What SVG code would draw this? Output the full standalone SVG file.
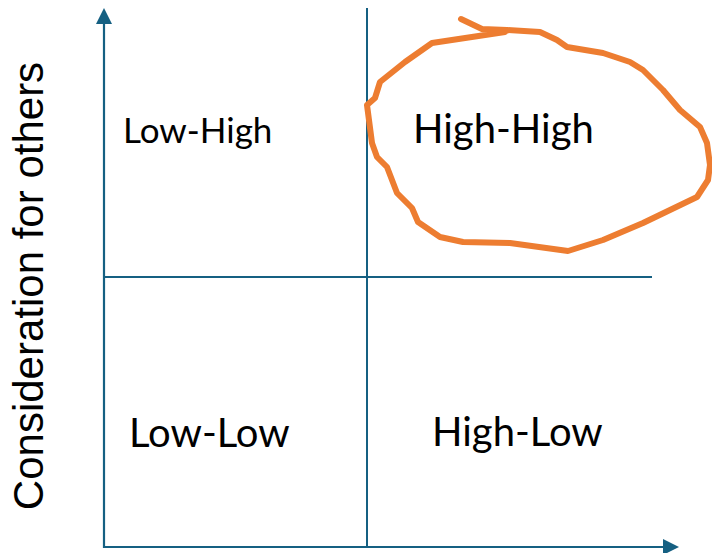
<svg xmlns="http://www.w3.org/2000/svg" width="712" height="553" viewBox="0 0 712 553">
<style>
.ax{stroke:#156082;stroke-width:2.2;fill:none}
.ln{stroke:#156082;stroke-width:2;fill:none}
.lbl{font-family:Lato,"Liberation Sans",sans-serif;fill:#000}
.axl{font-family:"Liberation Sans",Arial,sans-serif;fill:#000;font-size:42px}
.loop{stroke:#ED7D31;stroke-width:6;fill:none;stroke-linecap:round;stroke-linejoin:round}
</style>
<defs>
<marker id="ah" viewBox="0 0 16 16" refX="0" refY="8" markerWidth="16" markerHeight="16" markerUnits="userSpaceOnUse" orient="auto">
<path d="M0,0 L16,8 L0,16 Z" fill="#156082"/>
</marker>
</defs>
<g id="connectors">
<line class="ax" x1="104" y1="548" x2="104" y2="24" marker-end="url(#ah)"/>
<line class="ax" x1="103" y1="547" x2="663" y2="547" marker-end="url(#ah)"/>
<line class="ln" x1="367" y1="8" x2="367" y2="548"/>
<line class="ln" x1="104" y1="277" x2="652" y2="277"/>
</g>
<g id="axis-label">
<text class="axl" transform="translate(43,286) rotate(-90)" text-anchor="middle">Consideration for others</text>
</g>
<g id="low-high"><text class="lbl" x="123" y="143" font-size="35">Low-High</text></g>
<g id="high-high"><text class="lbl" x="413" y="143" font-size="40">High-High</text></g>
<g id="low-low"><text class="lbl" x="129" y="447" font-size="40">Low-Low</text></g>
<g id="high-low"><text class="lbl" x="432" y="446" font-size="40">High-Low</text></g>
<g id="highlight">
<path class="loop" d="M461,19 L482,29 L507,30 L540,32 L557,40 L567,47 L603,53 L630,62 L643,70 L663,90 L680,110 L700,127 L707,143 L710,165 L708,180 L697,197 L670,210 L643,223 L603,240 L568,251 L510,243 L463,242 L440,237 L418,222 L412,208 L397,193 L387,167 L377,157 L372,143 L367,105 L375,98 L380,82 L405,62 L432,43 L505,32"/>
</g>
</svg>
